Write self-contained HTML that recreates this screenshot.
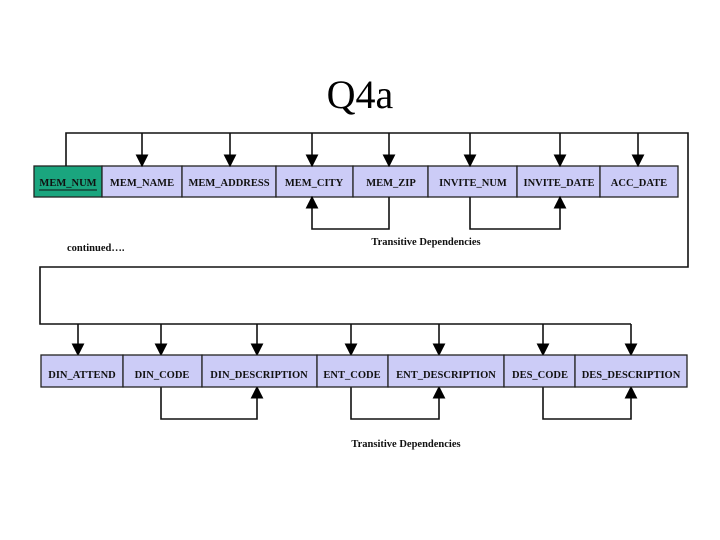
<!DOCTYPE html>
<html><head><style>
html,body{margin:0;padding:0;background:#fff;}
svg{display:block;}
.b{fill:#ccccf7;stroke:#222;stroke-width:1.3;}
.t{font-family:"Liberation Serif",serif;font-weight:bold;font-size:10.5px;fill:#111;text-anchor:middle;}
.l{fill:none;stroke:#111;stroke-width:1.6;}
</style></head><body>
<svg width="720" height="540" viewBox="0 0 720 540">
<text x="360" y="108" font-family="Liberation Serif,serif" font-size="40" text-anchor="middle" fill="#000">Q4a</text>
<defs><marker id="ab" viewBox="0 0 10 10" refX="9" refY="5" markerWidth="13" markerHeight="13" markerUnits="userSpaceOnUse" orient="auto"><path d="M0,0L10,5L0,10z" fill="#000"/></marker></defs>
<rect x="34" y="166" width="68" height="31" fill="#1aa57e" stroke="#222" stroke-width="1.3"/>
<rect class="b" x="102" y="166" width="80" height="31"/>
<rect class="b" x="182" y="166" width="94" height="31"/>
<rect class="b" x="276" y="166" width="77" height="31"/>
<rect class="b" x="353" y="166" width="75" height="31"/>
<rect class="b" x="428" y="166" width="89" height="31"/>
<rect class="b" x="517" y="166" width="83" height="31"/>
<rect class="b" x="600" y="166" width="78" height="31"/>
<text class="t" x="68" y="186">MEM_NUM</text>
<line x1="39" y1="190" x2="97" y2="190" stroke="#111" stroke-width="1"/>
<text class="t" x="142" y="186">MEM_NAME</text>
<text class="t" x="229" y="186">MEM_ADDRESS</text>
<text class="t" x="314" y="186">MEM_CITY</text>
<text class="t" x="391" y="186">MEM_ZIP</text>
<text class="t" x="473" y="186">INVITE_NUM</text>
<text class="t" x="559" y="186">INVITE_DATE</text>
<text class="t" x="639" y="186">ACC_DATE</text>
<polyline class="l" points="66,166 66,133 688,133 688,267 40,267 40,324 631,324"/>
<g class="l" marker-end="url(#ab)">
<line x1="142" y1="133" x2="142" y2="166"/>
<line x1="230" y1="133" x2="230" y2="166"/>
<line x1="312" y1="133" x2="312" y2="166"/>
<line x1="389" y1="133" x2="389" y2="166"/>
<line x1="470" y1="133" x2="470" y2="166"/>
<line x1="560" y1="133" x2="560" y2="166"/>
<line x1="638" y1="133" x2="638" y2="166"/>
<polyline points="389,197 389,229 312,229 312,197"/>
<polyline points="470,197 470,229 560,229 560,197"/>
<line x1="78" y1="324" x2="78" y2="355"/>
<line x1="161" y1="324" x2="161" y2="355"/>
<line x1="257" y1="324" x2="257" y2="355"/>
<line x1="351" y1="324" x2="351" y2="355"/>
<line x1="439" y1="324" x2="439" y2="355"/>
<line x1="543" y1="324" x2="543" y2="355"/>
<line x1="631" y1="324" x2="631" y2="355"/>
<polyline points="161,387 161,419 257,419 257,387"/>
<polyline points="351,387 351,419 439,419 439,387"/>
<polyline points="543,387 543,419 631,419 631,387"/>
</g>
<text class="t" x="426" y="245">Transitive Dependencies</text>
<text class="t" x="67" y="251" style="text-anchor:start">continued….</text>
<rect class="b" x="41" y="355" width="82" height="32"/>
<rect class="b" x="123" y="355" width="79" height="32"/>
<rect class="b" x="202" y="355" width="115" height="32"/>
<rect class="b" x="317" y="355" width="71" height="32"/>
<rect class="b" x="388" y="355" width="116" height="32"/>
<rect class="b" x="504" y="355" width="71" height="32"/>
<rect class="b" x="575" y="355" width="112" height="32"/>
<text class="t" x="82" y="378">DIN_ATTEND</text>
<text class="t" x="162" y="378">DIN_CODE</text>
<text class="t" x="259" y="378">DIN_DESCRIPTION</text>
<text class="t" x="352" y="378">ENT_CODE</text>
<text class="t" x="446" y="378">ENT_DESCRIPTION</text>
<text class="t" x="540" y="378">DES_CODE</text>
<text class="t" x="631" y="378">DES_DESCRIPTION</text>
<text class="t" x="406" y="447">Transitive Dependencies</text>
</svg>
</body></html>
